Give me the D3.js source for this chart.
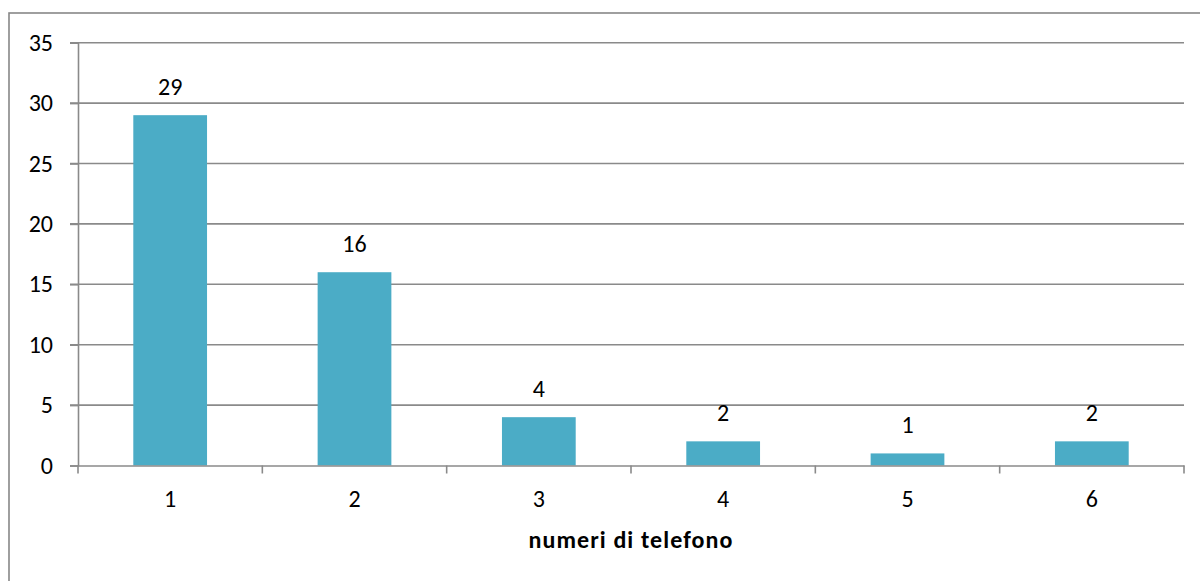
<!DOCTYPE html>
<html>
<head>
<meta charset="utf-8">
<script src="https://cdn.jsdelivr.net/npm/d3@7"></script>
<style>
  html, body { margin: 0; padding: 0; background: #fff; overflow: hidden; }
  text { font-family: Carlito, Calibri, Lato, "Open Sans", sans-serif; fill: #000; }
</style>
</head>
<body>
<svg id="chart" width="1200" height="581"></svg>
<script>
const categories = ["1", "2", "3", "4", "5", "6"];
const values = [29, 16, 4, 2, 1, 2];
const yTicks = [0, 5, 10, 15, 20, 25, 30, 35];
const xTitle = "numeri di telefono";

(function () {
const svg = d3.select("#chart");
const mLeft = 78, mRight = 1184, mTop = 42.7, mBottom = 465.5;
const FONT = "Carlito, Calibri, Lato, 'Open Sans', sans-serif";
const FS = 24;

// outer border (clipped at right/bottom like reference)
svg.append("rect")
  .attr("x", 9).attr("y", 13)
  .attr("width", 1200).attr("height", 600)
  .attr("fill", "none").attr("stroke", "#878787").attr("stroke-width", 1.6);

const x = d3.scaleBand().domain(categories).range([mLeft, mRight]).padding(0);
const y = d3.scaleLinear().domain([0, 35]).range([mBottom, mTop]);

// gridlines
svg.append("g").selectAll("line").data(yTicks.filter(d => d > 0)).join("line")
  .attr("x1", mLeft - 8).attr("x2", mRight)
  .attr("y1", d => y(d)).attr("y2", d => y(d))
  .attr("stroke", "#8a8a8a").attr("stroke-width", 1.6);

// y axis
const yAxis = d3.axisLeft(y).tickValues(yTicks).tickSize(8).tickPadding(17);
const gy = svg.append("g").attr("transform", `translate(${mLeft},0)`).call(yAxis);
gy.select(".domain").attr("stroke", "#8a8a8a").attr("stroke-width", 1.6);
gy.selectAll(".tick line").attr("stroke", "#8a8a8a").attr("stroke-width", 1.6);
gy.selectAll(".tick text").attr("font-size", FS).attr("font-family", FONT).attr("fill", "#000");

// bars
const barW = x.bandwidth() * 0.4;
svg.append("g").selectAll("rect").data(values).join("rect")
  .attr("x", (d, i) => x(categories[i]) + x.bandwidth() / 2 - barW / 2)
  .attr("y", d => y(d))
  .attr("width", barW)
  .attr("height", d => y(0) - y(d))
  .attr("fill", "#4BACC6");

// x axis
const xAxis = d3.axisBottom(x).tickSize(0).tickPadding(24);
const gx = svg.append("g").attr("transform", `translate(0,${mBottom})`).call(xAxis);
gx.select(".domain").attr("stroke", "#8a8a8a").attr("stroke-width", 1.6);
gx.selectAll(".tick text").attr("font-size", FS).attr("font-family", FONT).attr("fill", "#000");
// boundary ticks between categories
const bounds = categories.map(c => x(c)).concat([x(categories[categories.length - 1]) + x.bandwidth()]);
svg.append("g").selectAll("line").data(bounds).join("line")
  .attr("x1", d => d).attr("x2", d => d)
  .attr("y1", mBottom).attr("y2", mBottom + 8)
  .attr("stroke", "#8a8a8a").attr("stroke-width", 1.6);

// data labels
svg.append("g").selectAll("text").data(values).join("text")
  .attr("x", (d, i) => x(categories[i]) + x.bandwidth() / 2)
  .attr("y", d => y(d) - 20.5)
  .attr("text-anchor", "middle")
  .attr("font-size", FS)
  .text(d => d);

// x title
svg.append("text")
  .attr("x", (mLeft + mRight) / 2)
  .attr("y", 548)
  .attr("text-anchor", "middle")
  .attr("font-size", 24)
  .attr("letter-spacing", 1.1)
  .attr("font-weight", "bold")
  .text(xTitle);
})();
</script>
</body>
</html>
